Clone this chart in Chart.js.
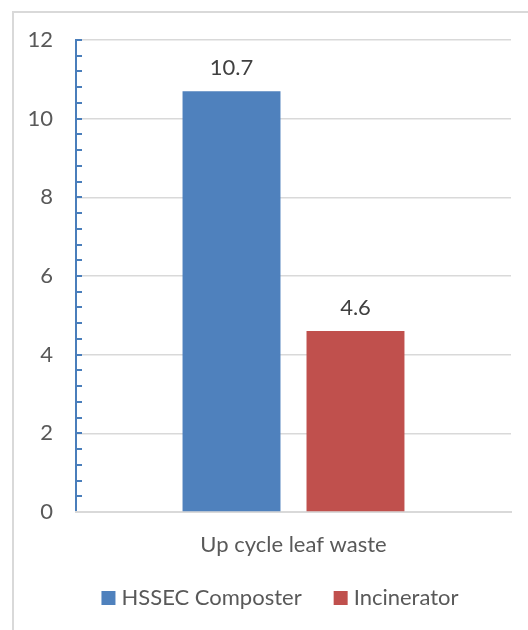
<!DOCTYPE html>
<html>
<head>
<meta charset="utf-8">
<script src="https://cdn.jsdelivr.net/npm/chart.js@4.4.0/dist/chart.umd.min.js"></script>
<style>
  html, body { margin: 0; padding: 0; background: #fff; }
  #wrap { position: relative; width: 528px; height: 630px; overflow: hidden; }
  #frame { position: absolute; left: 12px; top: 11px; width: 600px; height: 700px;
           border-left: 2px solid #d9d9d9; border-top: 2px solid #d9d9d9; }
  canvas { position: absolute; left: 0; top: 0; }
</style>
</head>
<body>
<div id="wrap">
  <div id="frame"></div>
  <canvas id="chart" width="528" height="630"></canvas>
</div>
<script>
const categories = ['Up cycle leaf waste'];
const seriesNames = ['HSSEC Composter', 'Incinerator'];
const composter = [10.7];
const incinerator = [4.6];
const yMax = 12;
const yStep = 2;
const minorStep = 0.4;

const FONT = 'Lato, "Open Sans", sans-serif';
const SIZE = 22;
const TEXT = '#595959';

// numbers above the bars
const valueLabels = {
    id: 'valueLabels',
    afterDatasetsDraw(chart) {
        const ctx = chart.ctx;
        ctx.save();
        ctx.font = SIZE + 'px ' + FONT;
        ctx.fillStyle = '#404040';
        ctx.textAlign = 'center';
        ctx.textBaseline = 'alphabetic';
        chart.data.datasets.forEach((ds, i) => {
            chart.getDatasetMeta(i).data.forEach((bar, j) => {
                ctx.fillText(ds.data[j].toFixed(1), bar.x, bar.y - 16);
            });
        });
        ctx.restore();
    }
};

// small blue ticks on the value axis
const minorTicks = {
    id: 'minorTicks',
    afterDraw(chart) {
        const y = chart.scales.y;
        const ctx = chart.ctx;
        ctx.save();
        ctx.strokeStyle = '#4a7ebb';
        ctx.lineWidth = 2;
        const n = Math.round(yMax / minorStep);
        for (let k = 1; k <= n; k++) {
            const py = Math.round(y.getPixelForValue(k * minorStep));
            ctx.beginPath();
            ctx.moveTo(y.right, py);
            ctx.lineTo(y.right + 6, py);
            ctx.stroke();
        }
        ctx.restore();
    }
};

// legend drawn by hand so it can sit off-centre like the original
const bottomLegend = {
    id: 'bottomLegend',
    afterDraw(chart) {
        const ctx = chart.ctx;
        ctx.save();
        ctx.font = SIZE + 'px ' + FONT;
        const box = 14, gap = 6, spacing = 32, base = 605, centre = 280;
        const items = chart.data.datasets.map(ds => ({
            text: ds.label, color: ds.backgroundColor, w: ctx.measureText(ds.label).width
        }));
        const total = items.reduce((s, it) => s + box + gap + it.w, 0) + spacing * (items.length - 1);
        let x = centre - total / 2;
        items.forEach(it => {
            ctx.fillStyle = it.color;
            ctx.fillRect(x, base - box, box, box);
            ctx.fillStyle = TEXT;
            ctx.textAlign = 'left';
            ctx.textBaseline = 'alphabetic';
            ctx.fillText(it.text, x + box + gap, base);
            x += box + gap + it.w + spacing;
        });
        ctx.restore();
    }
};

new Chart(document.getElementById('chart'), {
    type: 'bar',
    data: {
        labels: categories,
        datasets: [
            { label: seriesNames[0], data: composter, backgroundColor: '#4f81bd' },
            { label: seriesNames[1], data: incinerator, backgroundColor: '#c0504d' }
        ]
    },
    options: {
        responsive: false,
        animation: false,
        layout: { padding: { left: 0, right: 17, top: 40, bottom: 0 } },
        datasets: { bar: { categoryPercentage: 0.57, barPercentage: 0.79 } },
        plugins: {
            legend: { display: false },
            tooltip: { enabled: false }
        },
        scales: {
            y: {
                min: 0,
                max: yMax,
                ticks: { stepSize: yStep, padding: 23, color: TEXT, font: { family: FONT, size: SIZE } },
                grid: { color: '#d9d9d9', lineWidth: 1.5, drawTicks: false },
                border: { color: '#4a7ebb', width: 2 },
                afterFit: (s) => { s.width = 76; }
            },
            x: {
                ticks: { padding: 20, color: TEXT, font: { family: FONT, size: SIZE } },
                grid: { display: false, drawTicks: false },
                border: { color: '#d9d9d9', width: 2 },
                afterFit: (s) => { s.height = 118; }
            }
        }
    },
    plugins: [valueLabels, minorTicks, bottomLegend]
});
</script>
</body>
</html>
